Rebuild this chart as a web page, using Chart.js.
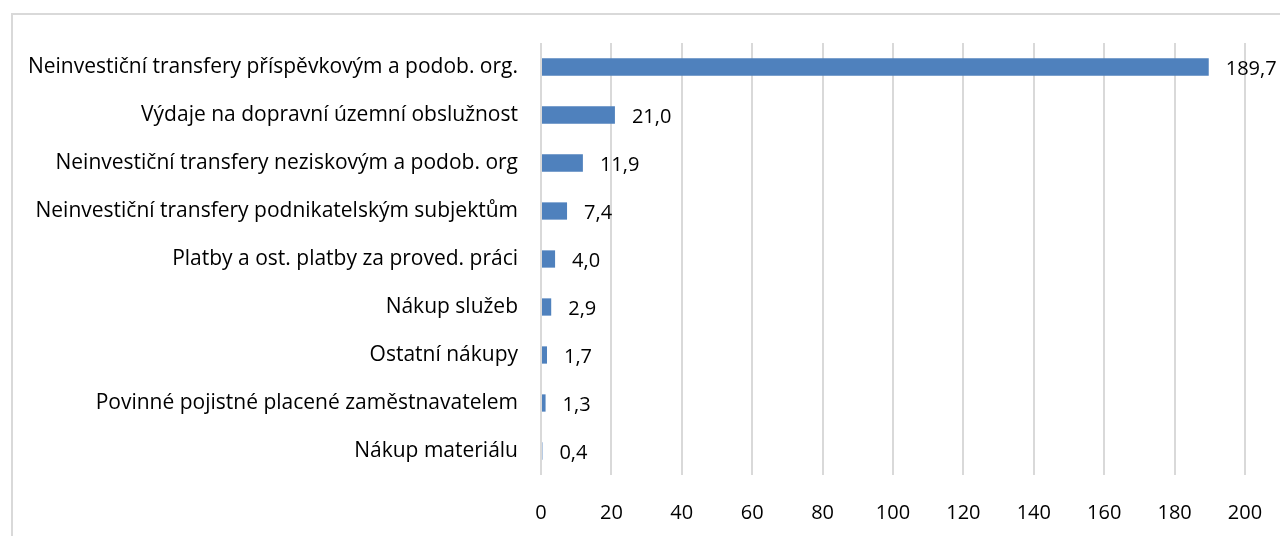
<!DOCTYPE html>
<html>
<head>
<meta charset="utf-8">
<script src="https://cdn.jsdelivr.net/npm/chart.js@4"></script>
<style>
  body { margin: 0; background: #fff; }
  #wrap { position: relative; width: 1280px; height: 536px; overflow: hidden; }
  #frame { position: absolute; left: 11px; top: 13px; width: 1290px; height: 540px; border: 2px solid #d9d9d9; box-sizing: border-box; }
  canvas { position: absolute; left: 0; top: 0; }
</style>
</head>
<body>
<div id="wrap">
  <div id="frame"></div>
  <canvas id="chart" width="1280" height="536"></canvas>
</div>
<script>
// ===== DATA =====
const categories = [
  "Neinvestiční transfery příspěvkovým a podob. org.",
  "Výdaje na dopravní územní obslužnost",
  "Neinvestiční transfery neziskovým a podob. org",
  "Neinvestiční transfery podnikatelským subjektům",
  "Platby a ost. platby za proved. práci",
  "Nákup služeb",
  "Ostatní nákupy",
  "Povinné pojistné placené zaměstnavatelem",
  "Nákup materiálu"
];
const values = [189.7, 21.0, 11.9, 7.4, 4.0, 2.9, 1.7, 1.3, 0.4];
const xTicks = [0, 20, 40, 60, 80, 100, 120, 140, 160, 180, 200];

const FONT = "'Open Sans', sans-serif";

// ===== VALUE LABELS =====
const valueLabels = {
  id: "valueLabels",
  afterDatasetsDraw(chart) {
    const ctx = chart.ctx;
    const meta = chart.getDatasetMeta(0);
    ctx.save();
    ctx.font = "20px " + FONT;
    ctx.fillStyle = "#000";
    ctx.textAlign = "left";
    ctx.textBaseline = "middle";
    meta.data.forEach((bar, i) => {
      const txt = values[i].toFixed(1).replace(".", ",");
      ctx.fillText(txt, bar.x + 17, bar.y + 2);
    });
    ctx.restore();
  }
};

new Chart(document.getElementById("chart"), {
  type: "bar",
  data: {
    labels: categories,
    datasets: [{
      data: values,
      backgroundColor: "#4f81bd",
      categoryPercentage: 1,
      barPercentage: 0.36
    }]
  },
  options: {
    indexAxis: "y",
    responsive: false,
    animation: false,
    layout: { padding: { left: 0, top: 43, right: 35, bottom: 0 } },
    plugins: { legend: { display: false }, tooltip: { enabled: false } },
    scales: {
      x: {
        min: 0,
        max: 200,
        afterBuildTicks: s => { s.ticks = xTicks.map(v => ({ value: v })); },
        afterFit: s => { s.height = 61; s.paddingLeft = 0; s.paddingRight = 0; },
        grid: { color: "#d9d9d9", lineWidth: 2, drawTicks: false },
        border: { display: false },
        ticks: { color: "#000", font: { family: FONT, size: 20 }, padding: 26 }
      },
      y: {
        afterFit: s => { s.width = 541; },
        grid: { display: false, drawTicks: false },
        border: { display: false },
        ticks: { color: "#000", font: { family: FONT, size: 21 }, padding: 23 }
      }
    }
  },
  plugins: [valueLabels]
});
</script>
</body>
</html>
